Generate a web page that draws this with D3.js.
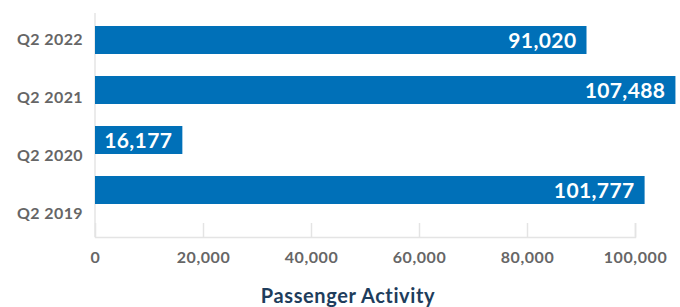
<!DOCTYPE html>
<html>
<head>
<meta charset="utf-8">
<script src="https://cdn.jsdelivr.net/npm/d3@7"></script>
<style>
  body { margin: 0; background: #fff; }
  svg { display: block; font-family: Lato, "Open Sans", sans-serif; }
</style>
</head>
<body>
<div id="chart"></div>
<script>
// Chart data
const quarters = ["Q2 2022", "Q2 2021", "Q2 2020", "Q2 2019"];
const passengers = [91020, 107488, 16177, 101777];
const xTicks = [0, 20000, 40000, 60000, 80000, 100000];

const width = 680;
const height = 307;
const left = 95;
const plotRight = 635;
const axisY = 237;

const svg = d3
  .select("#chart")
  .append("svg")
  .attr("width", width)
  .attr("height", height);

// Scales
const xScale = d3.scaleLinear().domain([0, 100000]).range([left, plotRight]);

const yBars = d3
  .scaleBand()
  .domain(quarters)
  .range([26, 204])
  .paddingInner(0.44)
  .paddingOuter(0);

const yLabels = d3.scalePoint().domain(quarters).range([39, 213]);

// Axis lines
svg
  .append("line")
  .attr("x1", left)
  .attr("x2", left)
  .attr("y1", 13)
  .attr("y2", axisY)
  .attr("stroke", "#e4e4e4")
  .attr("stroke-width", 1.5);

const xAxis = svg
  .append("g")
  .attr("transform", `translate(0, ${axisY})`)
  .call(
    d3
      .axisBottom(xScale)
      .tickValues(xTicks)
      .tickSize(-14)
      .tickPadding(26)
      .tickFormat(d3.format(","))
  );

xAxis.select(".domain").attr("stroke", "#e4e4e4").attr("stroke-width", 1.5);
xAxis.selectAll(".tick line").attr("stroke", "#e4e4e4").attr("stroke-width", 1.5);
xAxis.selectAll(".tick").filter((d) => d === 0).select("line").remove();
xAxis
  .selectAll(".tick text")
  .attr("fill", "#666")
  .attr("font-size", 16)
  .attr("font-weight", "bold")
  .attr("letter-spacing", 0.6)
  .attr("font-family", "Lato, sans-serif")
  .attr("dy", "0");

// Category labels
svg
  .selectAll(".cat")
  .data(quarters)
  .enter()
  .append("text")
  .attr("x", 83)
  .attr("y", (d) => yLabels(d))
  .attr("dy", "0.36em")
  .attr("text-anchor", "end")
  .attr("fill", "#666")
  .attr("font-size", 16)
  .attr("font-weight", "bold")
  .attr("letter-spacing", 0.4)
  .text((d) => d);

// Bars
svg
  .selectAll(".bar")
  .data(passengers)
  .enter()
  .append("rect")
  .attr("x", xScale(0))
  .attr("y", (d, i) => yBars(quarters[i]))
  .attr("width", (d) => xScale(d) - xScale(0))
  .attr("height", yBars.bandwidth())
  .attr("fill", "#0070b8");

// Value labels
svg
  .selectAll(".val")
  .data(passengers)
  .enter()
  .append("text")
  .attr("x", (d) => xScale(d) - 10)
  .attr("y", (d, i) => yBars(quarters[i]) + yBars.bandwidth() / 2)
  .attr("dy", "0.36em")
  .attr("text-anchor", "end")
  .attr("fill", "#fff")
  .attr("font-size", 21)
  .attr("font-weight", "bold")
  .attr("letter-spacing", 0.4)
  .text((d) => d3.format(",")(d));

// Axis title
svg
  .append("text")
  .attr("x", 348)
  .attr("y", 303)
  .attr("text-anchor", "middle")
  .attr("fill", "#1e3d5c")
  .attr("font-size", 20)
  .attr("font-weight", "bold")
  .attr("letter-spacing", 0.6)
  .text("Passenger Activity");
</script>
</body>
</html>
